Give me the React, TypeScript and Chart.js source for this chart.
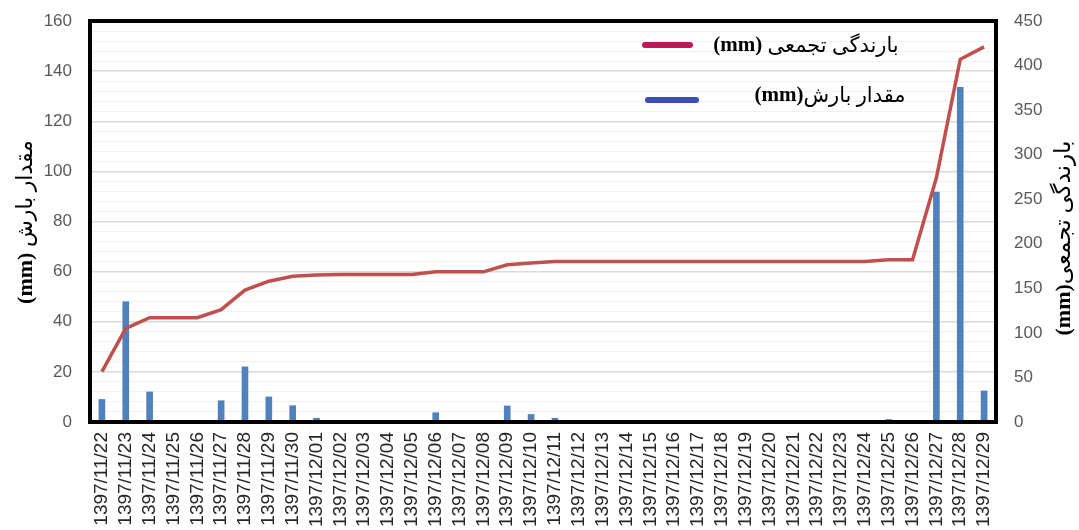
import React, { useEffect, useRef } from "react";
import { Chart, registerables } from "chart.js";

Chart.register(...registerables);

const labels: string[] = [
  "1397/11/22", "1397/11/23", "1397/11/24", "1397/11/25", "1397/11/26", "1397/11/27",
  "1397/11/28", "1397/11/29", "1397/11/30", "1397/12/01", "1397/12/02", "1397/12/03",
  "1397/12/04", "1397/12/05", "1397/12/06", "1397/12/07", "1397/12/08", "1397/12/09",
  "1397/12/10", "1397/12/11", "1397/12/12", "1397/12/13", "1397/12/14", "1397/12/15",
  "1397/12/16", "1397/12/17", "1397/12/18", "1397/12/19", "1397/12/20", "1397/12/21",
  "1397/12/22", "1397/12/23", "1397/12/24", "1397/12/25", "1397/12/26", "1397/12/27",
  "1397/12/28", "1397/12/29",
];

const rainfall: number[] = [
  9, 48, 12, 0, 0, 8.5, 22, 10, 6.5, 1.5, 0, 0, 0, 0, 3.7, 0, 0, 6.4, 3, 1.5,
  0, 0, 0, 0, 0, 0, 0, 0, 0, 0, 0, 0, 0, 1, 0, 91.7, 133.5, 12.4,
];

const cumulative: number[] = [
  56.6, 105, 117, 117, 117, 126, 148, 158, 163.5, 165, 165.5, 165.5, 165.5, 165.5,
  168.5, 168.5, 168.5, 176.5, 178.5, 180, 180, 180, 180, 180, 180, 180, 180, 180,
  180, 180, 180, 180, 180, 182, 182, 274, 407, 421,
];

const leftTitlePersian = "مقدار بارش";
const rightTitlePersian = "بارندگی تجمعی";
const legendCumPersian = "بارندگی تجمعی";
const legendRainPersian = "مقدار بارش";

const LEG_BOLD = 'bold 21px "Liberation Serif", "DejaVu Serif", serif';
const LEG_FA = '21px "Liberation Serif", "DejaVu Sans", sans-serif';
const TITLE_BOLD = 'bold 22px "Liberation Serif", "DejaVu Serif", serif';
const TITLE_FA_L = '22px "Liberation Serif", "DejaVu Sans", sans-serif';
const TITLE_FA_R = '23px "Liberation Serif", "DejaVu Sans", sans-serif';

type Part = { text: string; font: string };

function drawMixed(ctx: CanvasRenderingContext2D, cx: number, cy: number, angle: number, parts: Part[]) {
  ctx.save();
  ctx.translate(cx, cy);
  ctx.rotate(angle);
  ctx.textAlign = "left";
  ctx.textBaseline = "middle";
  ctx.fillStyle = "#000";
  const widths = parts.map((p) => {
    ctx.font = p.font;
    return ctx.measureText(p.text).width;
  });
  const total = widths.reduce((a, b) => a + b, 0);
  let x = -total / 2;
  parts.forEach((p, i) => {
    ctx.font = p.font;
    ctx.fillText(p.text, x, 0);
    x += widths[i];
  });
  ctx.restore();
}

const decorPlugin = {
  id: "decor",
  afterDraw(chart: any) {
    const ctx: CanvasRenderingContext2D = chart.ctx;
    const a = chart.chartArea;
    ctx.save();
    ctx.strokeStyle = "#000";
    ctx.lineWidth = 4;
    ctx.strokeRect(a.left, a.top, a.right - a.left, a.bottom - a.top);
    ctx.restore();

    // legend
    ctx.save();
    ctx.lineCap = "round";
    ctx.lineWidth = 6;
    ctx.strokeStyle = "#C2185B";
    ctx.beginPath();
    ctx.moveTo(645, 45);
    ctx.lineTo(690, 45);
    ctx.stroke();
    ctx.strokeStyle = "#3A4DB5";
    ctx.beginPath();
    ctx.moveTo(648, 100);
    ctx.lineTo(696, 100);
    ctx.stroke();
    ctx.restore();

    drawMixed(ctx, 806, 46, 0, [
      { text: "(mm) ", font: LEG_BOLD },
      { text: legendCumPersian, font: LEG_FA },
    ]);
    drawMixed(ctx, 830, 96, 0, [
      { text: "(mm)", font: LEG_BOLD },
      { text: legendRainPersian, font: LEG_FA },
    ]);

    // axis titles
    drawMixed(ctx, 26, 222, -Math.PI / 2, [
      { text: "(mm) ", font: TITLE_BOLD },
      { text: leftTitlePersian, font: TITLE_FA_L },
    ]);
    drawMixed(ctx, 1064, 238, -Math.PI / 2, [
      { text: "(mm)", font: TITLE_BOLD },
      { text: rightTitlePersian, font: TITLE_FA_R },
    ]);
  },
};

function zeroVPad(s: any) {
  s.paddingTop = 0;
  s.paddingBottom = 0;
}

export default function App() {
  const ref = useRef<HTMLCanvasElement | null>(null);

  useEffect(() => {
    document.body.style.margin = "0";
    document.body.style.overflow = "hidden";
    const canvas = ref.current;
    if (!canvas) return;
    const chart = new Chart(canvas, {
      type: "bar",
      data: {
        labels,
        datasets: [
          {
            type: "line",
            label: "بارندگی تجمعی (mm)",
            data: cumulative,
            yAxisID: "y1",
            borderColor: "#C0504D",
            backgroundColor: "#C0504D",
            borderWidth: 3.5,
            pointRadius: 0,
            tension: 0,
            order: 0,
          } as any,
          {
            type: "bar",
            label: "مقدار بارش(mm)",
            data: rainfall,
            yAxisID: "y",
            backgroundColor: "#4F81BD",
            barThickness: 6,
            order: 1,
          },
        ],
      },
      options: {
        responsive: false,
        animation: false,
        layout: { autoPadding: false, padding: { top: 21, left: 0, right: 0, bottom: 0 } },
        plugins: {
          legend: { display: false },
          tooltip: { enabled: false },
        },
        scales: {
          x: {
            offset: true,
            grid: { display: false, drawTicks: false },
            border: { display: false },
            ticks: {
              autoSkip: false,
              minRotation: 90,
              maxRotation: 90,
              padding: 10,
              color: "#262626",
              font: { family: '"Liberation Sans", Arial, sans-serif', size: 19 },
            },
            afterFit: (s: any) => {
              s.height = 108;
              s.paddingLeft = 0;
              s.paddingRight = 0;
            },
          },
          y: {
            position: "left",
            min: 0,
            max: 160,
            grid: {
              drawTicks: false,
              color: (c: any) => (c.tick && c.tick.value % 20 === 0 ? "#d9d9d9" : "#f1f1f1"),
              lineWidth: (c: any) => (c.tick && c.tick.value % 20 === 0 ? 1.5 : 1),
            },
            border: { display: false },
            ticks: {
              stepSize: 4,
              autoSkip: false,
              padding: 18,
              color: "#595959",
              font: { family: '"Liberation Sans", Arial, sans-serif', size: 17 },
              callback: (v: any) => (Number(v) % 20 === 0 ? String(v) : ""),
            },
            afterFit: (s: any) => {
              s.width = 90;
              zeroVPad(s);
            },
          },
          y1: {
            position: "right",
            min: 0,
            max: 450,
            grid: { drawOnChartArea: false, drawTicks: false },
            border: { display: false },
            ticks: {
              stepSize: 50,
              padding: 18,
              color: "#595959",
              font: { family: '"Liberation Sans", Arial, sans-serif', size: 17 },
            },
            afterFit: (s: any) => {
              s.width = 83;
              zeroVPad(s);
            },
          },
        },
      },
      plugins: [decorPlugin],
    });
    return () => chart.destroy();
  }, []);

  return <canvas ref={ref} width={1079} height={530} style={{ display: "block" }} />;
}
